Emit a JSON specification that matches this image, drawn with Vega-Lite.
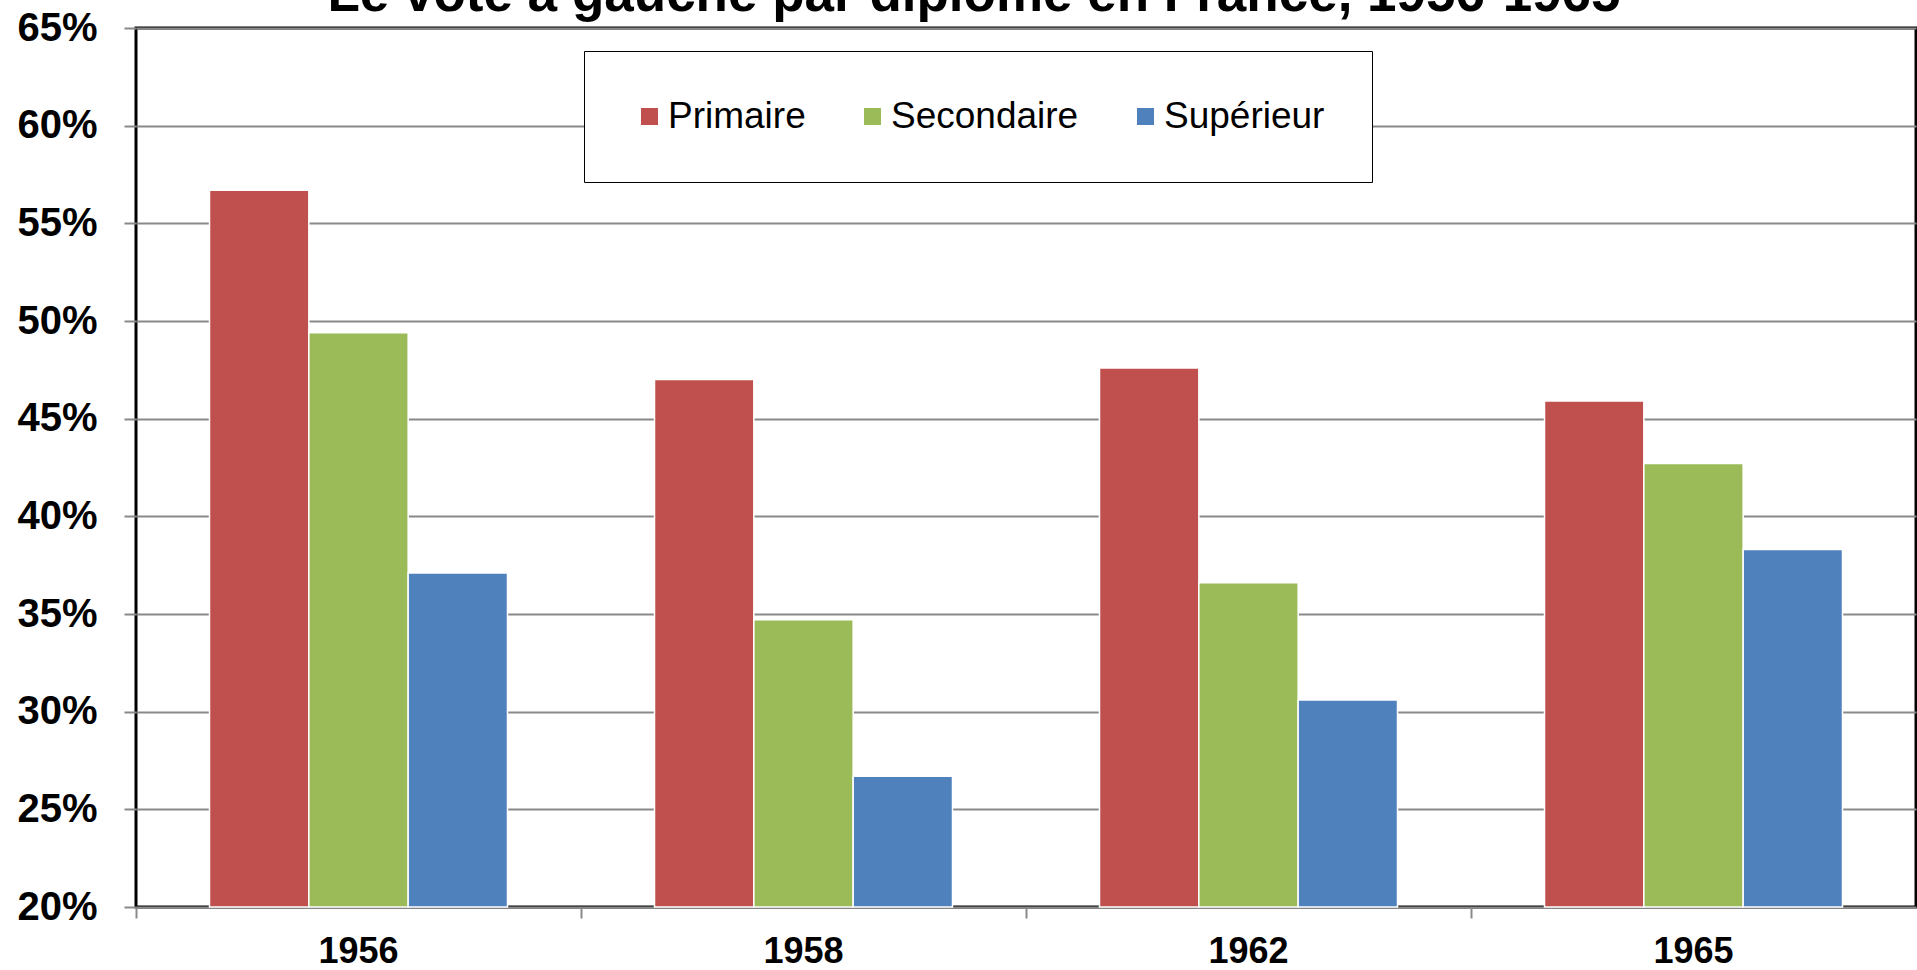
{
  "$schema": "https://vega.github.io/schema/vega-lite/v6.json",
  "autosize": {"type": "none"},
  "width": 1780,
  "height": 879,
  "padding": {"left": 136, "top": 28, "right": 1, "bottom": 63},
  "background": "white",
  "title": {
    "text": "Le vote à gauche par diplôme en France, 1956-1965",
    "font": "Liberation Sans",
    "fontSize": 53,
    "fontWeight": "bold",
    "color": "black",
    "anchor": "middle",
    "frame": "group",
    "baseline": "alphabetic",
    "offset": -56,
    "dx": -52
  },
  "config": {
    "view": {"stroke": "#000000", "strokeWidth": 3},
    "font": "Liberation Sans",
    "legend": {"strokeColor": "black", "fillColor": "white"}
  },
  "data": {
    "values": [
      {"annee": "1956", "diplome": "Primaire", "part": 0.567},
      {"annee": "1956", "diplome": "Secondaire", "part": 0.494},
      {"annee": "1956", "diplome": "Supérieur", "part": 0.371},
      {"annee": "1958", "diplome": "Primaire", "part": 0.470},
      {"annee": "1958", "diplome": "Secondaire", "part": 0.347},
      {"annee": "1958", "diplome": "Supérieur", "part": 0.267},
      {"annee": "1962", "diplome": "Primaire", "part": 0.476},
      {"annee": "1962", "diplome": "Secondaire", "part": 0.366},
      {"annee": "1962", "diplome": "Supérieur", "part": 0.306},
      {"annee": "1965", "diplome": "Primaire", "part": 0.459},
      {"annee": "1965", "diplome": "Secondaire", "part": 0.427},
      {"annee": "1965", "diplome": "Supérieur", "part": 0.383}
    ]
  },
  "mark": {"type": "bar", "stroke": "white", "strokeWidth": 1.5},
  "encoding": {
    "x": {
      "field": "annee",
      "type": "nominal",
      "scale": {"paddingInner": 0, "paddingOuter": 0},
      "axis": {
        "title": null,
        "labelAngle": 0,
        "bandPosition": 0,
        "labelFont": "Liberation Sans",
        "labelFontSize": 36,
        "labelFontWeight": "bold",
        "labelColor": "black",
        "labelPadding": 16,
        "tickSize": 11,
        "tickColor": "#898989",
        "tickWidth": 2,
        "domain": false,
        "grid": false
      }
    },
    "xOffset": {
      "field": "diplome",
      "type": "nominal",
      "sort": ["Primaire", "Secondaire", "Supérieur"],
      "scale": {"paddingInner": 0, "paddingOuter": 0.74}
    },
    "y": {
      "field": "part",
      "type": "quantitative",
      "scale": {"domain": [0.2, 0.65], "zero": false, "nice": false},
      "axis": {
        "title": null,
        "values": [0.2, 0.25, 0.3, 0.35, 0.4, 0.45, 0.5, 0.55, 0.6, 0.65],
        "format": ".0%",
        "labelFont": "Liberation Sans",
        "labelFontSize": 40,
        "labelFontWeight": "bold",
        "labelColor": "black",
        "labelPadding": 27,
        "tickSize": 12,
        "tickColor": "#898989",
        "tickWidth": 2,
        "gridColor": "#898989",
        "gridWidth": 2,
        "domain": false
      }
    },
    "y2": {"datum": 0.2},
    "color": {
      "field": "diplome",
      "type": "nominal",
      "scale": {
        "domain": ["Primaire", "Secondaire", "Supérieur"],
        "range": ["#C0504D", "#9BBB59", "#4F81BD"]
      },
      "legend": {
        "title": null,
        "orient": "none",
        "direction": "horizontal",
        "legendX": 448,
        "legendY": 23,
        "symbolType": "square",
        "symbolSize": 289,
        "symbolStrokeWidth": 0,
        "labelFont": "Liberation Sans",
        "labelFontSize": 37,
        "labelColor": "black",
        "labelOffset": 0,
        "labelLimit": 400,
        "gridAlign": "none",
        "columnPadding": 48,
        "padding": 47
      }
    }
  }
}
